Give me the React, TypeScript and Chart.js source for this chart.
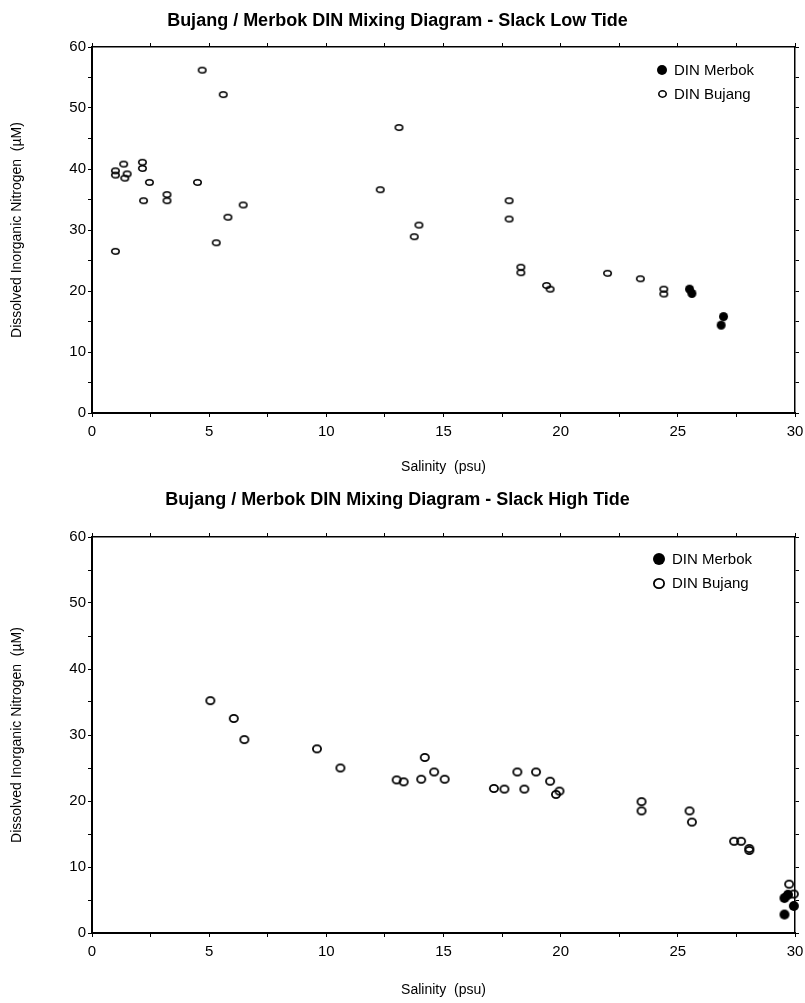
import React, { useEffect, useRef } from 'react';
import { Chart, registerables } from 'chart.js';

Chart.register(...registerables);

const FONT = '"Liberation Sans", Arial, Helvetica, sans-serif';

// ---------- Data ----------
const salinityRange = [0, 30];
const dinRange = [0, 60];
const salinityTickStep = 2.5; // labelled every 5
const dinTickStep = 5; // labelled every 10

const lowTitle = 'Bujang / Merbok DIN Mixing Diagram - Slack Low Tide';
const highTitle = 'Bujang / Merbok DIN Mixing Diagram - Slack High Tide';
const xAxisTitle = 'Salinity  (psu)';
const yAxisTitle = 'Dissolved Inorganic Nitrogen  (µM)';
const seriesLabels = ['DIN Merbok', 'DIN Bujang'];

const lowMerbokSalinity = [25.5, 25.6, 26.95, 26.85];
const lowMerbokDIN = [20.3, 19.6, 15.8, 14.4];

const lowBujangSalinity = [
  1.0, 1.0, 1.35, 1.5, 1.4, 2.15, 2.15, 2.45, 2.2, 3.2, 3.2, 4.5, 4.7, 5.6, 6.45, 5.8,
  5.3, 1.0, 12.3, 13.1, 13.95, 13.75, 17.8, 17.8, 18.3, 18.3, 19.4, 19.55, 22.0, 23.4,
  24.4, 24.4,
];
const lowBujangDIN = [
  39.7, 39.0, 40.8, 39.2, 38.5, 41.1, 40.1, 37.8, 34.8, 35.8, 34.8, 37.8, 56.2, 52.2,
  34.1, 32.1, 27.9, 26.5, 36.6, 46.8, 30.8, 28.9, 34.8, 31.8, 23.9, 23.0, 20.9, 20.3,
  22.9, 22.0, 20.3, 19.5,
];

const highMerbokSalinity = [29.55, 29.7, 29.95, 29.55];
const highMerbokDIN = [5.3, 5.8, 4.1, 2.8];

const highBujangSalinity = [
  5.05, 6.05, 6.5, 9.6, 10.6, 13.0, 13.3, 14.05, 14.2, 14.6, 15.05, 17.15, 17.6, 18.15,
  18.45, 18.95, 19.55, 19.8, 19.95, 23.45, 23.45, 25.5, 25.6, 27.4, 27.7, 28.05, 28.05,
  29.75, 29.95,
];
const highBujangDIN = [
  35.2, 32.5, 29.3, 27.9, 25.0, 23.2, 22.9, 23.3, 26.6, 24.4, 23.3, 21.9, 21.8, 24.4,
  21.8, 24.4, 23.0, 21.0, 21.5, 19.9, 18.5, 18.5, 16.8, 13.9, 13.9, 12.8, 12.5, 7.4, 5.9,
];

// ---------- helpers ----------
function zip(xs: number[], ys: number[]) {
  return xs.map((x, i) => ({ x, y: ys[i] }));
}

function ellipseMarker(w: number, h: number, filled: boolean, lw: number) {
  const pad = 2;
  const c = document.createElement('canvas');
  c.width = w + pad * 2;
  c.height = h + pad * 2;
  const ctx = c.getContext('2d')!;
  ctx.beginPath();
  if (filled) {
    ctx.ellipse(c.width / 2, c.height / 2, w / 2, h / 2, 0, 0, Math.PI * 2);
    ctx.fillStyle = '#000';
    ctx.fill();
  } else {
    ctx.ellipse(c.width / 2, c.height / 2, (w - lw) / 2, (h - lw) / 2, 0, 0, Math.PI * 2);
    ctx.strokeStyle = '#000';
    ctx.lineWidth = lw;
    ctx.stroke();
  }
  return c;
}

type PanelSpec = {
  title: string;
  titlePad: { top: number; bottom: number };
  bottomH: number;
  xTitlePadB: number;
  merbok: { x: number; y: number }[];
  bujang: { x: number; y: number }[];
  filled: HTMLCanvasElement;
  open: HTMLCanvasElement;
  legFilled: HTMLCanvasElement;
  legOpen: HTMLCanvasElement;
  legend: { offsetX: number; top: number; gap: number; textGap: number; size: number };
};

function makeConfig(p: PanelSpec): any {
  const tickFont = { family: FONT, size: 15 };
  const gridCommon = {
    drawOnChartArea: false,
    drawTicks: true,
    tickLength: 4,
    color: '#000',
    tickColor: '#000',
    lineWidth: 1,
    tickWidth: 1,
  };
  const legendPlugin = {
    id: 'cornerLegend',
    afterDraw(chart: any) {
      const { ctx, chartArea } = chart;
      const imgs = [p.legFilled, p.legOpen];
      ctx.save();
      chart.data.datasets.forEach((ds: any, i: number) => {
        const cx = chartArea.right - p.legend.offsetX;
        const cy = chartArea.top + p.legend.top + i * p.legend.gap;
        const img = imgs[i];
        ctx.drawImage(img, Math.round(cx - img.width / 2), Math.round(cy - img.height / 2));
        ctx.font = `${p.legend.size}px ${FONT}`;
        ctx.fillStyle = '#000';
        ctx.textAlign = 'left';
        ctx.textBaseline = 'middle';
        ctx.fillText(ds.label, cx + p.legend.textGap, cy + 1);
      });
      ctx.restore();
    },
  };
  return {
    type: 'scatter',
    data: {
      datasets: [
        {
          label: seriesLabels[0],
          data: p.merbok,
          pointStyle: p.filled,
          pointRadius: 5,
          clip: false,
          showLine: false,
        },
        {
          label: seriesLabels[1],
          data: p.bujang,
          pointStyle: p.open,
          pointRadius: 5,
          clip: false,
          showLine: false,
        },
      ],
    },
    options: {
      responsive: false,
      animation: false,
      events: [],
      layout: { padding: { left: 0, right: 10, top: 0, bottom: 0 } },
      plugins: {
        legend: { display: false },
        tooltip: { enabled: false },
        title: {
          display: true,
          text: p.title,
          color: '#000',
          font: { family: FONT, size: 18, weight: 'bold', lineHeight: 1.2 },
          padding: p.titlePad,
        },
      },
      scales: {
        x: {
          type: 'linear',
          position: 'bottom',
          min: salinityRange[0],
          max: salinityRange[1],
          afterFit: (s: any) => {
            s.height = p.bottomH;
            s.paddingLeft = 0;
            s.paddingRight = 0;
          },
          ticks: {
            stepSize: salinityTickStep,
            autoSkip: false,
            maxRotation: 0,
            padding: 6,
            color: '#000',
            font: tickFont,
            callback: (v: number) => (v % 5 === 0 ? String(v) : ''),
          },
          grid: gridCommon,
          border: { display: true, color: '#000', width: 2 },
          title: {
            display: true,
            text: xAxisTitle,
            color: '#000',
            font: { family: FONT, size: 14 },
            padding: { top: 0, bottom: p.xTitlePadB },
          },
        },
        x2: {
          type: 'linear',
          position: 'top',
          min: salinityRange[0],
          max: salinityRange[1],
          afterFit: (s: any) => {
            s.height = 0;
          },
          ticks: { display: false, stepSize: salinityTickStep },
          grid: gridCommon,
          border: { display: true, color: '#000', width: 1.5 },
        },
        y: {
          type: 'linear',
          position: 'left',
          min: dinRange[0],
          max: dinRange[1],
          afterFit: (s: any) => {
            s.width = 92;
          },
          ticks: {
            stepSize: dinTickStep,
            autoSkip: false,
            padding: 2,
            color: '#000',
            font: tickFont,
            callback: (v: number) => (v % 10 === 0 ? String(v) : ''),
          },
          grid: gridCommon,
          border: { display: true, color: '#000', width: 2 },
          title: {
            display: true,
            text: yAxisTitle,
            color: '#000',
            font: { family: FONT, size: 14 },
            padding: { top: 9, bottom: 0 },
          },
        },
        y2: {
          type: 'linear',
          position: 'right',
          min: dinRange[0],
          max: dinRange[1],
          afterFit: (s: any) => {
            s.width = 0;
          },
          ticks: { display: false, stepSize: dinTickStep },
          grid: gridCommon,
          border: { display: true, color: '#000', width: 1.5 },
        },
      },
    },
    plugins: [legendPlugin],
  };
}

const TOP_H = 485;
const BOT_H = 518;

export default function App() {
  const topRef = useRef<HTMLCanvasElement>(null);
  const botRef = useRef<HTMLCanvasElement>(null);

  useEffect(() => {
    const topSpec: PanelSpec = {
      title: lowTitle,
      titlePad: { top: 10.2, bottom: 15.2 },
      bottomH: 72,
      xTitlePadB: 9.6,
      merbok: zip(lowMerbokSalinity, lowMerbokDIN),
      bujang: zip(lowBujangSalinity, lowBujangDIN),
      filled: ellipseMarker(9, 9, true, 0),
      open: ellipseMarker(9, 7, false, 1.6),
      legFilled: ellipseMarker(10, 10, true, 0),
      legOpen: ellipseMarker(9, 8, false, 1.6),
      legend: { offsetX: 133, top: 23, gap: 24, textGap: 12, size: 15 },
    };
    const botSpec: PanelSpec = {
      title: highTitle,
      titlePad: { top: 4.2, bottom: 26.2 },
      bottomH: 70,
      xTitlePadB: 4.6,
      merbok: zip(highMerbokSalinity, highMerbokDIN),
      bujang: zip(highBujangSalinity, highBujangDIN),
      filled: ellipseMarker(10, 10, true, 0),
      open: ellipseMarker(10, 9, false, 1.8),
      legFilled: ellipseMarker(12, 12, true, 0),
      legOpen: ellipseMarker(12, 11, false, 1.8),
      legend: { offsetX: 136, top: 22, gap: 24, textGap: 13, size: 15 },
    };
    const c1 = new Chart(topRef.current!, makeConfig(topSpec));
    const c2 = new Chart(botRef.current!, makeConfig(botSpec));
    return () => {
      c1.destroy();
      c2.destroy();
    };
  }, []);

  return (
    <div style={{ position: 'absolute', left: 0, top: 0, width: 805, height: 1003, background: '#fff' }}>
      <canvas
        ref={topRef}
        width={805}
        height={TOP_H}
        style={{ position: 'absolute', left: 0, top: 0, width: 805, height: TOP_H }}
      />
      <canvas
        ref={botRef}
        width={805}
        height={BOT_H}
        style={{ position: 'absolute', left: 0, top: TOP_H, width: 805, height: BOT_H }}
      />
    </div>
  );
}
